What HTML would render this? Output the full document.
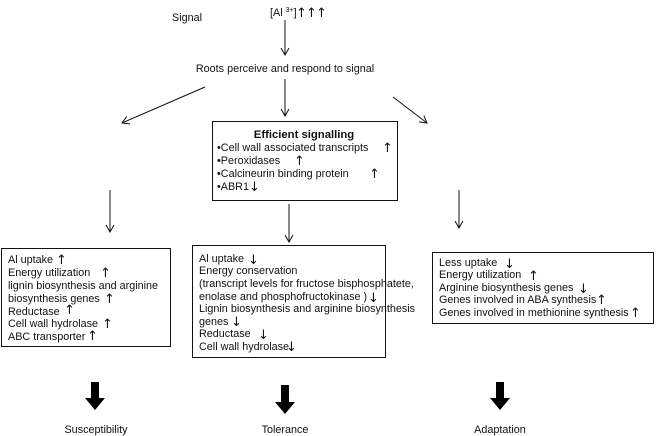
<!DOCTYPE html>
<html><head><style>
html,body{margin:0;padding:0;background:#fff;}
svg{display:block;font-family:"Liberation Sans",Arial,sans-serif;}
text{font-size:10.8px;fill:#111;}
.a{font-family:"DejaVu Sans",sans-serif;font-size:13px;}
</style></head><body>
<svg width="656" height="436" viewBox="0 0 656 436" xmlns="http://www.w3.org/2000/svg">
<defs>
<marker id="h" markerWidth="10" markerHeight="10" refX="8" refY="5" orient="auto" markerUnits="userSpaceOnUse">
<path d="M1,1 L8,5 L1,9" fill="none" stroke="#111" stroke-width="1"/>
</marker>
</defs>
<g stroke="#111" stroke-width="1" fill="none">
<line x1="285" y1="20" x2="285" y2="55" marker-end="url(#h)"/>
<line x1="285" y1="79" x2="285" y2="116" marker-end="url(#h)"/>
<line x1="205" y1="87" x2="122" y2="123" marker-end="url(#h)"/>
<line x1="393" y1="97" x2="427" y2="123" marker-end="url(#h)"/>
<line x1="110" y1="190" x2="110" y2="232" marker-end="url(#h)"/>
<line x1="289" y1="204" x2="289" y2="242" marker-end="url(#h)"/>
<line x1="459" y1="190" x2="459" y2="228" marker-end="url(#h)"/>
<rect x="212.5" y="121.5" width="185" height="79"/>
<rect x="1.5" y="248.5" width="169" height="98"/>
<rect x="192.5" y="245.5" width="193" height="112"/>
<rect x="432.5" y="252.5" width="221" height="71"/>
</g>
<g fill="#000">
<path d="M91,382 h8 v16 h6 l-10,12 l-10,-12 h6z"/>
<path d="M281,385 h8 v17 h6 l-10,12 l-10,-12 h6z"/>
<path d="M496,382 h8 v16 h6 l-10,12 l-10,-12 h6z"/>
</g>
<text x="172" y="21">Signal</text>
<text x="270" y="16">[Al <tspan font-size="7" dy="-4">3+</tspan><tspan dy="4">]</tspan></text>
<text x="296" y="17" class="a">↑</text><text x="306" y="17" class="a">↑</text><text x="316" y="17" class="a">↑</text>
<text x="285" y="72" text-anchor="middle">Roots perceive and respond to signal</text>
<text x="304" y="138" text-anchor="middle" font-weight="bold" style="font-size:11.3px">Efficient signalling</text>
<text x="217" y="151">•Cell wall associated transcripts</text><text x="382" y="152" class="a">↑</text>
<text x="217" y="164">•Peroxidases</text><text x="294" y="165" class="a">↑</text>
<text x="217" y="177">•Calcineurin binding protein</text><text x="369" y="178" class="a">↑</text>
<text x="217" y="190">•ABR1</text><text x="249" y="191" class="a">↓</text>

<text x="8" y="263">Al uptake</text><text x="56" y="264" class="a">↑</text>
<text x="8" y="276">Energy utilization</text><text x="100" y="277" class="a">↑</text>
<text x="8" y="289">lignin biosynthesis  and arginine</text>
<text x="8" y="302">biosynthesis genes</text><text x="104" y="303" class="a">↑</text>
<text x="8" y="315">Reductase</text><text x="64" y="314" class="a">↑</text>
<text x="8" y="327">Cell wall hydrolase</text><text x="102" y="328" class="a">↑</text>
<text x="8" y="340">ABC transporter</text><text x="87" y="340" class="a">↑</text>

<text x="199" y="262">Al uptake</text><text x="248" y="264" class="a">↓</text>
<text x="199" y="274">Energy conservation</text>
<text x="199" y="287">(transcript levels for fructose bisphosphatete,</text>
<text x="199" y="300">enolase and phosphofructokinase )</text><text x="368" y="302" class="a">↓</text>
<text x="199" y="312">Lignin biosynthesis and arginine biosynthesis</text>
<text x="199" y="325">genes</text><text x="231" y="326" class="a">↓</text>
<text x="199" y="337">Reductase</text><text x="258" y="339" class="a">↓</text>
<text x="199" y="350">Cell wall hydrolase</text><text x="286" y="351" class="a">↓</text>

<text x="439" y="266">Less uptake</text><text x="504" y="268" class="a">↓</text>
<text x="439" y="278">Energy utilization</text><text x="528" y="280" class="a">↑</text>
<text x="439" y="291">Arginine biosynthesis genes</text><text x="578" y="293" class="a">↓</text>
<text x="439" y="303">Genes involved in ABA synthesis</text><text x="596" y="304" class="a">↑</text>
<text x="439" y="316">Genes involved in methionine synthesis</text><text x="630" y="317" class="a">↑</text>

<text x="96" y="433" text-anchor="middle">Susceptibility</text>
<text x="285" y="433" text-anchor="middle">Tolerance</text>
<text x="500" y="433" text-anchor="middle">Adaptation</text>
</svg>
</body></html>
